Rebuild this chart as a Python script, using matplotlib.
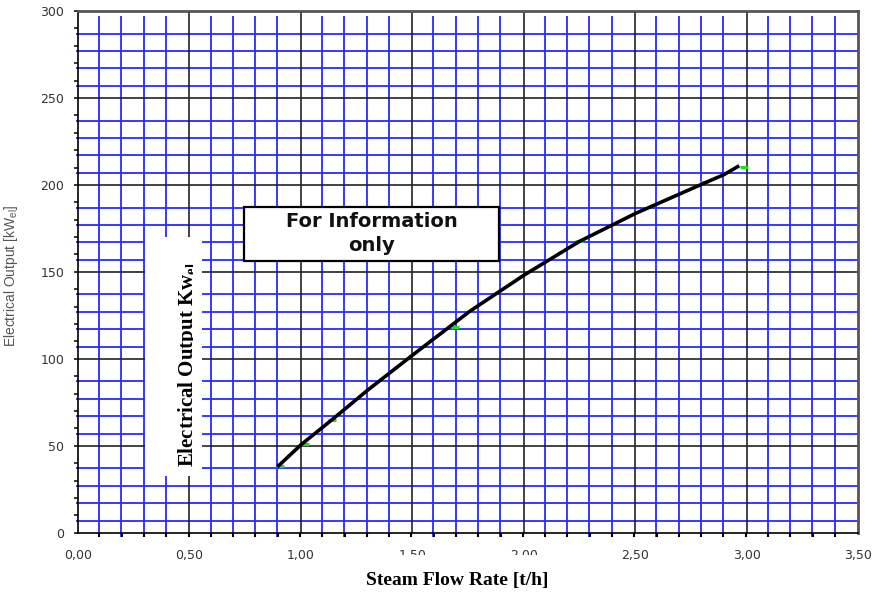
import numpy as np
import matplotlib
matplotlib.use("Agg")
import matplotlib.pyplot as plt
from matplotlib.patches import Rectangle
from matplotlib.transforms import Bbox, TransformedBbox

plt.rcParams['font.family'] = 'DejaVu Sans'
plt.rcParams['mathtext.fontset'] = 'custom'
plt.rcParams['mathtext.rm'] = 'Liberation Sans'
plt.rcParams['mathtext.bf'] = 'Liberation Serif:bold'

# curve (steam flow t/h -> electrical output kW)
flow = [0.90, 1.00, 1.14, 1.30, 1.50, 1.76, 2.00, 2.25, 2.50, 2.81, 2.90, 2.96]
power = [38.5, 50.5, 65.0, 82.0, 102.0, 127.5, 148.0, 167.5, 183.5, 201.0,
         206.0, 210.5]

# green measuring points
pt_flow = [0.906, 1.02, 1.14, 1.69, 2.25, 2.81, 2.99]
pt_power = [38.5, 51.0, 65.0, 118.0, 167.8, 201.4, 210.3]

xticks = [0.0, 0.5, 1.0, 1.5, 2.0, 2.5, 3.0, 3.5]
xticklabels = ["0,00", "0,50", "1,00", "1,50", "2,00", "2,50", "3,00", "3,50"]
yticks = [0, 50, 100, 150, 200, 250, 300]

fig = plt.figure(figsize=(8.74, 6.01), dpi=100)
ax = fig.add_axes([78/874, 1-532.7/601, 780/874, 521.7/601])
ax.set_xlim(0, 3.5)
ax.set_ylim(0, 300)

# blue fine grid (slightly off the ticks, as in the original)
blue = '#2a2aff'
vx = [k*0.1 - 0.005 for k in range(1, 35) if k % 5 != 0]
ax.vlines(vx, -2.3, 297, color=blue, lw=1.3, zorder=1, clip_on=False)
hy = [50*m + 7 + 10*k for m in range(6) for k in range(4)]
ax.hlines(hy, -0.008, 3.5, color=blue, lw=1.3, zorder=1, clip_on=False)

# black major grid
for x in xticks[1:-1]:
    ax.axvline(x, color='#222222', lw=1.2, zorder=2)
for y in yticks[1:-1]:
    ax.axhline(y, color='#222222', lw=1.2, zorder=2)

# curve and points
ax.plot(pt_flow, pt_power, ls='none', marker='_', ms=6, mew=2.2,
        color='#22dd22', zorder=4)
ax.plot(flow, power, color='black', lw=2.6, zorder=5,
        solid_joinstyle='round')

# white box with the overlaid vertical title
ax.add_patch(Rectangle((0.30, 32.6), 0.256, 137.4, facecolor='white',
                       edgecolor='none', zorder=6))
t = ax.text(0.5166, 37.9, r"Electrical Output Kw$_{\mathbf{el}}$",
            rotation=90, rotation_mode='anchor', ha='left', va='baseline',
            fontsize=15, fontweight='bold', family='Liberation Serif',
            color='black', zorder=7)
t.set_clip_path(None)
t.set_clip_box(TransformedBbox(Bbox([[0.30, 32.6], [0.5166, 170]]),
                               ax.transData))
t.set_clip_on(True)

# "For Information only" box
ax.add_patch(Rectangle((0.745, 156.3), 1.144, 31.1, facecolor='white',
                       edgecolor='black', lw=1.6, zorder=6))
ax.text(1.317, 172.0, "For Information\nonly", ha='center', va='center',
        fontsize=14, fontweight='bold', linespacing=1.3, color='#111111',
        zorder=7)

# axes styling
ax.set_xticks(xticks)
ax.set_xticklabels(xticklabels)
ax.set_xticks(np.arange(0.1, 3.5, 0.1) - 0.004, minor=True)
ax.set_yticks(yticks)
ax.set_yticks(np.arange(10, 300, 10), minor=True)
ax.tick_params(axis='x', which='major', length=0, pad=12, labelsize=9,
               labelcolor='#333333')
ax.tick_params(axis='x', which='minor', length=3, width=1.5, color='black')
ax.tick_params(axis='y', which='both', length=3, width=1.1, color='black',
               pad=7, labelsize=9, labelcolor='#333333')
for side in ['left', 'bottom']:
    ax.spines[side].set_color('black')
    ax.spines[side].set_linewidth(1.2)
for side in ['top', 'right']:
    ax.spines[side].set_color('#555555')
    ax.spines[side].set_linewidth(2)

ax.set_ylabel(r"Electrical Output [kW$_{\mathrm{el}}$]", fontsize=10,
              family='Liberation Sans', color='#555555')
ax.yaxis.set_label_coords(-0.074, 0.492)

# white strip that hides part of the tick labels under the x title
fig.add_artist(Rectangle((393/874, 1-570/601), 155/874, 15.5/601,
                         transform=fig.transFigure, facecolor='white',
                         edgecolor='none', zorder=3))
fig.text(457/874, 1-580/601, "Steam Flow Rate [t/h]", ha='center',
         va='center', fontsize=14, fontweight='bold',
         family='Liberation Serif', zorder=4)

fig.savefig("out.png", dpi=100)
